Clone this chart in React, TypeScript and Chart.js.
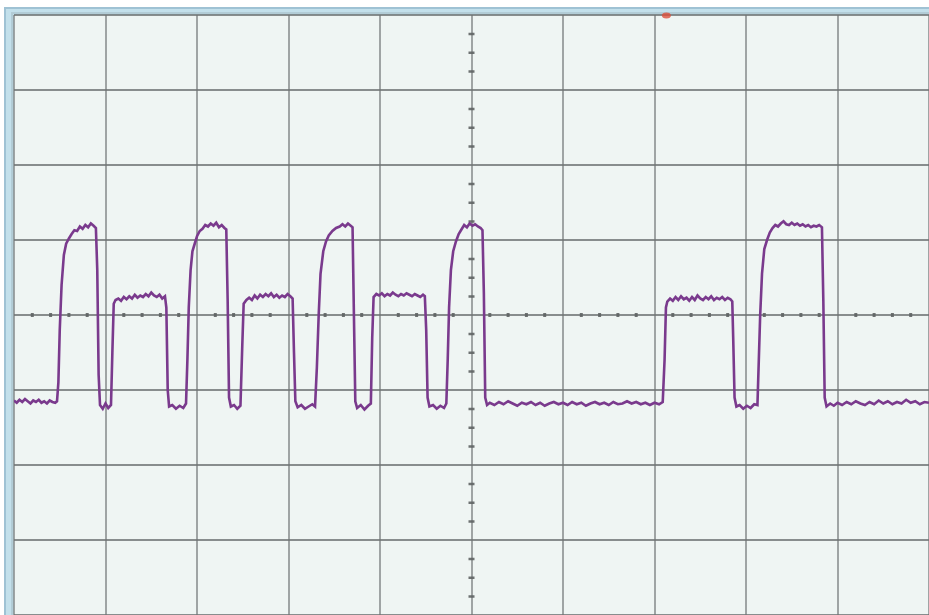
import React, { useEffect, useRef } from "react";
import { Chart, registerables } from "chart.js";

Chart.register(...registerables);

// Oscilloscope screen: 10 horizontal divisions x 8 vertical divisions
const TIME_MIN = 0; // ns
const TIME_MAX = 1000; // ns
const TIME_PER_DIV = 100; // ns/div
const VOLT_MIN = -4; // div
const VOLT_MAX = 4;
const VOLT_PER_DIV = 1;
const MINOR_TIME_STEP = 20; // 5 minor marks per division on the centre line
const MINOR_VOLT_STEP = 0.25; // 4 minor marks per division on the centre line
const TRIGGER_TIME = 713; // trigger position marker at the top

// Captured trace, [time ns, volts (div)]
const TRACE: [number, number][] = [
  [0, -1.14], [3, -1.17], [6, -1.13], [9, -1.16], [12, -1.12], [15, -1.15], [18, -1.18], [21, -1.14],
  [24, -1.16], [27, -1.13], [30, -1.17], [33, -1.15], [36, -1.18], [39, -1.14], [42, -1.16], [45, -1.17], [47, -1.15],
  [48.5, -0.9], [50, -0.2], [52, 0.4], [54.5, 0.8], [57, 0.95], [60, 1.02], [63, 1.08], [66, 1.13], [69, 1.12],
  [72, 1.18], [75, 1.15], [78, 1.2], [81, 1.17], [84, 1.22], [87, 1.19], [89.5, 1.16],
  [91, 0.6], [92.5, -0.8], [94, -1.2], [97, -1.25], [100, -1.18], [103, -1.24], [106, -1.2],
  [107.5, -0.5], [109, 0.15], [111, 0.2], [114, 0.22], [117, 0.19], [120, 0.24], [123, 0.21], [126, 0.25],
  [129, 0.22], [132, 0.27], [135, 0.23], [138, 0.26], [141, 0.24], [144, 0.28], [147, 0.25], [150, 0.3],
  [153, 0.26], [156, 0.24], [159, 0.27], [162, 0.22], [165, 0.25],
  [166.5, 0.1], [168, -1.0], [169.5, -1.22], [173, -1.2], [177, -1.25], [181, -1.21], [185, -1.24], [188, -1.18],
  [189.5, -0.6], [191, 0.1], [193, 0.6], [195, 0.85], [197.5, 0.95], [200, 1.05], [203, 1.12], [206, 1.15],
  [209, 1.2], [212, 1.18], [215, 1.22], [218, 1.19], [221, 1.23], [224, 1.17], [227, 1.2], [230, 1.16], [232, 1.14],
  [233.5, 0.2], [235, -1.1], [237, -1.22], [240.5, -1.2], [244, -1.25], [247.5, -1.21],
  [249.5, -0.4], [251, 0.15], [254, 0.2], [257, 0.23], [260, 0.2], [263, 0.26], [266, 0.22], [269, 0.27],
  [272, 0.24], [275, 0.28], [278, 0.25], [281, 0.29], [284, 0.24], [287, 0.27], [290, 0.23], [293, 0.26],
  [296, 0.24], [299, 0.28], [302, 0.25], [304.5, 0.22],
  [306, -0.5], [307.5, -1.15], [310, -1.23], [314, -1.2], [318, -1.25], [322, -1.22], [326, -1.19], [329, -1.22],
  [331, -0.7], [333, 0.0], [335, 0.55], [338, 0.85], [341, 0.98], [344, 1.06], [348, 1.12], [352, 1.16],
  [356, 1.18], [359, 1.21], [362, 1.18], [365, 1.22], [368, 1.19], [370, 1.17],
  [371.5, 0.0], [373, -1.15], [375, -1.24], [379, -1.2], [383, -1.26], [387, -1.21], [390, -1.18],
  [391.5, -0.3], [393, 0.24], [396, 0.28], [399, 0.26], [402, 0.29], [405, 0.25], [408, 0.28], [411, 0.26],
  [414, 0.3], [417, 0.27], [420, 0.25], [423, 0.28], [426, 0.26], [429, 0.29], [432, 0.27], [435, 0.25],
  [438, 0.28], [441, 0.26], [444, 0.24], [447, 0.27], [449, 0.25],
  [450.5, -0.2], [452, -1.1], [454, -1.22], [458, -1.2], [462, -1.25], [466, -1.21], [470, -1.24], [472.5, -1.18],
  [474, -0.6], [475.5, 0.1], [477.5, 0.6], [480, 0.85], [483, 0.98], [486, 1.08], [489, 1.14], [492, 1.2],
  [495, 1.17], [498, 1.22], [501, 1.19], [504, 1.21], [507, 1.18], [510, 1.16], [512, 1.13],
  [513.5, 0.3], [515, -1.1], [517, -1.2], [520, -1.17], [525, -1.2], [530, -1.16], [535, -1.19], [540, -1.15],
  [545, -1.18], [550, -1.21], [555, -1.17], [560, -1.19], [565, -1.16], [570, -1.2], [575, -1.17], [580, -1.21],
  [585, -1.18], [590, -1.16], [595, -1.19], [600, -1.17], [605, -1.2], [610, -1.16], [615, -1.19], [620, -1.17],
  [625, -1.21], [630, -1.18], [635, -1.16], [640, -1.19], [645, -1.17], [650, -1.2], [655, -1.16], [660, -1.19],
  [665, -1.18], [670, -1.15], [675, -1.18], [680, -1.16], [685, -1.19], [690, -1.17], [695, -1.2], [700, -1.17],
  [705, -1.19], [709, -1.16],
  [711, -0.6], [712.5, 0.1], [714, 0.18], [717, 0.22], [720, 0.19], [723, 0.24], [726, 0.2], [729, 0.25],
  [732, 0.21], [735, 0.23], [738, 0.19], [741, 0.24], [744, 0.2], [747, 0.26], [750, 0.22], [753, 0.2],
  [756, 0.24], [759, 0.21], [762, 0.25], [765, 0.2], [768, 0.23], [771, 0.21], [774, 0.24], [777, 0.2],
  [780, 0.23], [783, 0.21], [785, 0.18],
  [786, -0.3], [787.5, -1.1], [789.5, -1.22], [793, -1.2], [797, -1.25], [801, -1.21], [805, -1.24], [809, -1.19], [812.5, -1.2],
  [814, -0.6], [815.5, 0.0], [817.5, 0.55], [820, 0.88], [823, 1.0], [826, 1.1], [829, 1.16], [832, 1.2],
  [835, 1.18], [838, 1.22], [841, 1.25], [844, 1.21], [847, 1.2], [850, 1.23], [853, 1.2], [856, 1.22],
  [859, 1.19], [862, 1.21], [865, 1.18], [868, 1.2], [871, 1.17], [874, 1.19], [877, 1.18], [880, 1.2], [883, 1.17],
  [884.5, 0.2], [886, -1.1], [888, -1.22], [892, -1.18], [896, -1.21], [900, -1.17], [905, -1.2], [910, -1.16],
  [915, -1.19], [920, -1.15], [925, -1.18], [930, -1.2], [935, -1.16], [940, -1.19], [945, -1.14], [950, -1.18],
  [955, -1.15], [960, -1.19], [965, -1.16], [970, -1.18], [975, -1.13], [980, -1.17], [985, -1.15], [990, -1.19],
  [995, -1.16], [1000, -1.17],
];

const scopePlugin = {
  id: "scopeScreen",
  beforeDraw(chart: any) {
    const { ctx, chartArea: a, width, height } = chart;
    ctx.save();
    ctx.fillStyle = "#ffffff";
    ctx.fillRect(0, 0, width, height);
    // bezel frame (top and left)
    ctx.fillStyle = "#c3e0eb";
    ctx.fillRect(4, 7, width - 4, a.top - 7);
    ctx.fillRect(4, 7, a.left - 4, height - 7);
    ctx.fillStyle = "#9fc2d4";
    ctx.fillRect(4, 7, width - 4, 2);
    ctx.fillRect(4, 7, 2, height - 7);
    ctx.fillStyle = "#b2ccd6";
    ctx.fillRect(a.left - 3, a.top - 3, width, 2);
    ctx.fillRect(a.left - 3, a.top - 3, 2, height);
    // screen
    ctx.fillStyle = "#eff5f3";
    ctx.fillRect(a.left, a.top, a.right - a.left, a.bottom - a.top);
    ctx.restore();
  },
  beforeDatasetsDraw(chart: any) {
    const { ctx } = chart;
    const xs = chart.scales.x;
    const ys = chart.scales.y;
    const y0 = ys.getPixelForValue(0);
    const xc = xs.getPixelForValue((TIME_MIN + TIME_MAX) / 2);
    ctx.save();
    ctx.fillStyle = "rgba(95,100,100,0.9)";
    for (let t = TIME_MIN + MINOR_TIME_STEP; t < TIME_MAX; t += MINOR_TIME_STEP) {
      if (Math.abs(t % TIME_PER_DIV) < 1e-6) continue;
      const px = xs.getPixelForValue(t);
      ctx.fillRect(px - 1.5, y0 - 2, 3, 4);
    }
    for (let v = VOLT_MIN + MINOR_VOLT_STEP; v < VOLT_MAX; v += MINOR_VOLT_STEP) {
      if (Math.abs(v - Math.round(v)) < 1e-6) continue;
      const py = ys.getPixelForValue(v);
      ctx.fillRect(xc - 3, py - 1, 6, 2.5);
    }
    ctx.restore();
  },
  afterDraw(chart: any) {
    const { ctx, chartArea: a } = chart;
    const px = chart.scales.x.getPixelForValue(TRIGGER_TIME);
    ctx.save();
    ctx.fillStyle = "rgba(220,80,60,0.8)";
    ctx.beginPath();
    ctx.ellipse(px, a.top + 0.5, 4.5, 3, 0, 0, Math.PI * 2);
    ctx.fill();
    ctx.restore();
  },
};

export default function App() {
  const ref = useRef<HTMLCanvasElement | null>(null);
  useEffect(() => {
    if (!ref.current) return;
    const chart = new Chart(ref.current, {
      type: "scatter",
      data: {
        datasets: [
          {
            label: "CH1",
            data: TRACE.map(([t, v]) => ({ x: t, y: v })),
            showLine: true,
            borderColor: "#7a3a8d",
            borderWidth: 2.6,
            pointRadius: 0,
            tension: 0,
          },
        ],
      },
      options: {
        animation: false,
        responsive: false,
        maintainAspectRatio: false,
        layout: { padding: { left: 14, top: 15, right: 0, bottom: 0 } },
        plugins: { legend: { display: false }, tooltip: { enabled: false } },
        scales: {
          x: {
            type: "linear",
            min: TIME_MIN,
            max: TIME_MAX,
            ticks: { stepSize: TIME_PER_DIV, display: false },
            grid: { color: "rgba(125,130,130,0.7)", lineWidth: 2, drawTicks: false },
            border: { display: false },
          },
          y: {
            type: "linear",
            min: VOLT_MIN,
            max: VOLT_MAX,
            ticks: { stepSize: VOLT_PER_DIV, display: false },
            grid: { color: "rgba(110,115,115,0.8)", lineWidth: 2, drawTicks: false },
            border: { display: false },
          },
        },
      },
      plugins: [scopePlugin],
    });
    return () => chart.destroy();
  }, []);
  return (
    <div style={{ position: "absolute", left: 0, top: 0, width: 929, height: 615 }}>
      <canvas ref={ref} width={929} height={615} style={{ display: "block" }} />
    </div>
  );
}
